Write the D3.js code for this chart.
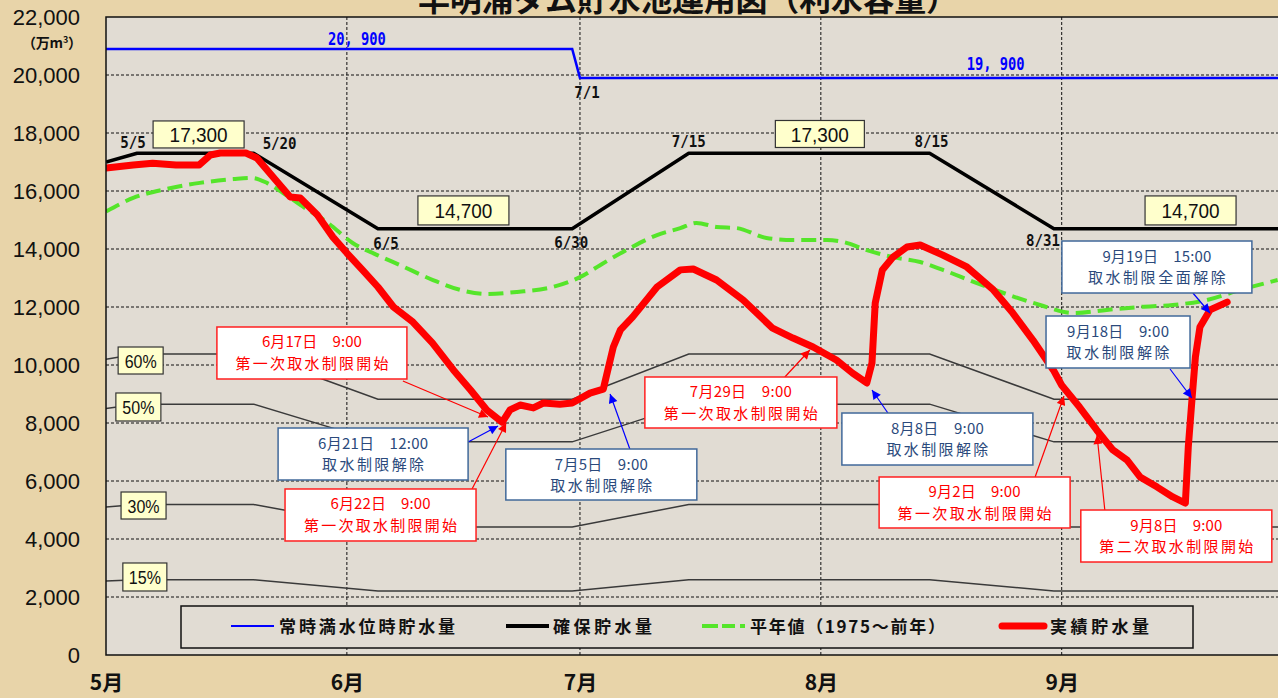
<!DOCTYPE html>
<html><head><meta charset="utf-8">
<script src="https://cdn.jsdelivr.net/npm/d3@7"></script>
<style>
html,body{margin:0;padding:0;background:#e9d6ad;overflow:hidden;}
svg{display:block;}
</style></head><body>
<svg id="chart" width="1278" height="698"></svg>
<script>
// ---------------- DATA ----------------
const titleText = "早明浦ダム貯水池運用図（利水容量）";
const yUnit = "（万m³）";
const yTicks = [0,2000,4000,6000,8000,10000,12000,14000,16000,18000,20000,22000];
const monthTicks = ["5/1","6/1","7/1","8/1","9/1"];
const monthLabels = ["5月","6月","7月","8月","9月"];
const legendLabels = ["常時満水位時貯水量","確保貯水量","平年値（1975～前年）","実績貯水量"];

// 常時満水位時貯水量
const fullDates  = ["5/1","6/30","7/1","10/1"];
const fullValues = [20900,20900,19900,19900];

// 確保貯水量 and its percentage lines
const secureDates  = ["5/1","5/5","5/20","6/5","6/30","7/15","8/15","8/31","10/1"];
const secureValues = [17000,17300,17300,14700,14700,17300,17300,14700,14700];
const pct60Values  = [10200,10380,10380,8820,8820,10380,10380,8820,8820];
const pct50Values  = [8500,8650,8650,7350,7350,8650,8650,7350,7350];
const pct30Values  = [5100,5190,5190,4410,4410,5190,5190,4410,4410];
const pct15Values  = [2550,2595,2595,2205,2205,2595,2595,2205,2205];
const pctLabels = ["60%","50%","30%","15%"];

// 平年値（1975～前年）
const normalDates = ["5/1","5/4 12","5/8 19","5/13 2","5/17 10","5/19 19","5/21 17","5/23 19","5/26","5/29 10",
  "6/1 19","6/4 22","6/7 19","6/12 2","6/15 14","6/19","6/22 22","6/27 12","7/1","7/4",
  "7/7 10","7/10 22","7/13 22","7/16","7/18 14","7/21 5","7/25","7/28 10","8/1 19","8/3 22",
  "8/6 22","8/10 7","8/13 19","8/16 17","8/21","8/25 7","8/29 5","9/2 12","9/6 19","9/11",
  "9/15 7","9/19 17","9/24","9/28 19"];
const normalValues = [15290,15760,16070,16280,16410,16450,16280,15930,15520,14930,
  14200,13790,13450,12930,12590,12450,12520,12690,13030,13510,
  14030,14480,14720,14900,14760,14720,14380,14310,14310,14240,
  13960,13720,13550,13280,12830,12410,12070,11790,11900,12000,
  12070,12240,12590,12930];

// 実績貯水量
const actualDates = ["5/1","5/4 12","5/7","5/10","5/13","5/14 10","5/15 17","5/19","5/20 10","5/22 12",
  "5/24 17","5/26","5/28 5","5/30 5","6/1","6/3","6/5","6/7","6/9 12","6/12",
  "6/14 17","6/16 22","6/19","6/21","6/22","6/23 7","6/25","6/26 7","6/28 10","6/30",
  "7/2 7","7/4","7/5 7","7/6 5","7/7 19","7/10 22","7/13 22","7/15 14","7/18 14","7/22",
  "7/25 19","7/28 10","7/31","8/3","8/5 2","8/6 22","8/7 14","8/8","8/8 22","8/10 7",
  "8/12 2","8/13 19","8/16 17","8/19 19","8/23 5","8/25 17","8/28 7","8/30 22","9/1","9/3 7",
  "9/5 12","9/7 14","9/9 10","9/11 2","9/13 7","9/15 7","9/16 22","9/17 7","9/17 19","9/18 5",
  "9/18 19","9/20 2","9/22 7"];
const actualValues = [16790,16900,16960,16900,16900,17240,17310,17310,17140,16480,
  15790,15760,15170,14410,13860,13280,12690,12000,11480,10760,
  9830,9140,8450,8030,8450,8620,8520,8690,8650,8690,
  9030,9170,10620,11210,11660,12690,13280,13310,12930,12240,
  11270,10930,10620,10170,9720,9380,10070,12140,13280,13720,
  14070,14140,13790,13380,12590,11790,10860,9830,9300,8550,
  7760,7070,6720,6140,5790,5450,5240,7170,8900,10280,
  11310,11900,12170];

// value labels
const fullLabels   = ["20, 900","19, 900"];
const secureLabels = ["17,300","14,700","17,300","14,700"];
const dateMarks    = ["5/5","5/20","6/5","6/30","7/1","7/15","8/15","8/31"];

// callouts
const calloutLine1 = ["6月17日　9:00","6月22日　9:00","7月29日　9:00","9月2日　9:00","9月8日　9:00",
  "6月21日　12:00","7月5日　9:00","8月8日　9:00","9月18日　9:00","9月19日　15:00"];
const calloutLine2 = ["第一次取水制限開始","第一次取水制限開始","第一次取水制限開始","第一次取水制限開始","第二次取水制限開始",
  "取水制限解除","取水制限解除","取水制限解除","取水制限解除","取水制限全面解除"];
const calloutKind  = ["start","start","start","start","start","end","end","end","end","end"];

// ---------------- LAYOUT ----------------
const W = 1278, H = 698;
const plot = {left:106, top:17, bottom:655, right:1278};
const parseD = s => { const p = s.split(" "); const md = p[0].split("/").map(Number); return new Date(2005, md[0]-1, md[1], p[1] ? +p[1] : 0); };
const x = d3.scaleTime().domain([new Date(2005,4,1), new Date(2005,9,1)]).range([106, 1294.8]);
const y = d3.scaleLinear().domain([0,22000]).range([655,17]);

const JP = "'Noto Sans CJK JP','Noto Sans CJK SC',sans-serif";
const SANS = "'Liberation Sans',Arial,sans-serif";
const MONO = "'DejaVu Sans Mono',monospace";

const svg = d3.select("#chart");
svg.append("rect").attr("width",W).attr("height",H).attr("fill","#e8d4a9");

const defs = svg.append("defs");
defs.append("clipPath").attr("id","clip").append("rect")
  .attr("x",plot.left).attr("y",plot.top).attr("width",plot.right-plot.left).attr("height",plot.bottom-plot.top);
[["arrRed","#ff0000"],["arrBlue","#0000ff"]].forEach(([id,c])=>{
  defs.append("marker").attr("id",id).attr("viewBox","0 0 10 10").attr("refX",10).attr("refY",5)
    .attr("markerUnits","userSpaceOnUse").attr("markerWidth",11).attr("markerHeight",9).attr("orient","auto")
    .append("path").attr("d","M0,0L10,5L0,10z").attr("fill",c);
});

// plot background
svg.append("rect").attr("x",plot.left).attr("y",plot.top).attr("width",plot.right-plot.left)
  .attr("height",plot.bottom-plot.top).attr("fill","#e1dcd3");

// grid
const grid = svg.append("g").attr("clip-path","url(#clip)");
grid.selectAll("line.h").data(yTicks.filter(v=>v>0 && v<22000)).join("line")
  .attr("x1",plot.left).attr("x2",plot.right).attr("y1",d=>y(d)).attr("y2",d=>y(d))
  .attr("stroke","#111").attr("stroke-width",1).attr("stroke-dasharray","3,2");
grid.selectAll("line.v").data(monthTicks.slice(1)).join("line")
  .attr("x1",d=>x(parseD(d))).attr("x2",d=>x(parseD(d))).attr("y1",plot.top).attr("y2",plot.bottom)
  .attr("stroke","#111").attr("stroke-width",1).attr("stroke-dasharray","3,2");

// axes
const yAxis = svg.append("g").attr("transform",`translate(${plot.left},0)`)
  .call(d3.axisLeft(y).tickValues(yTicks).tickFormat(d3.format(",")).tickSize(0).tickPadding(26));
yAxis.select(".domain").remove();
yAxis.selectAll("text").attr("font-family",SANS).attr("font-size",22).attr("fill","#111");

const xAxis = svg.append("g").attr("transform",`translate(0,${plot.bottom})`)
  .call(d3.axisBottom(x).tickValues(monthTicks.map(parseD)).tickFormat((d,i)=>monthLabels[i]).tickSize(0).tickPadding(20));
xAxis.select(".domain").remove();
xAxis.selectAll("text").attr("font-family",JP).attr("font-size",21).attr("font-weight","bold").attr("fill","#111");

// y unit
const unit = svg.append("text").attr("x",52).attr("y",48).attr("text-anchor","middle")
  .attr("font-family",JP).attr("font-size",14).attr("font-weight","bold").attr("fill","#111")
  .attr("textLength",60);
unit.append("tspan").text("（万m");
unit.append("tspan").attr("font-size",9).attr("dy",-5).text("3");
unit.append("tspan").attr("dy",5).text("）");

// series
const series = svg.append("g").attr("clip-path","url(#clip)");
const lineGen = (dates, vals, curve) => d3.line().curve(curve||d3.curveLinear)
  .x((d,i)=>x(parseD(dates[i]))).y((d,i)=>y(vals[i]))(vals);

[pct60Values,pct50Values,pct30Values,pct15Values].forEach(vals=>{
  series.append("path").attr("d",lineGen(secureDates,vals)).attr("fill","none")
    .attr("stroke","#3a3a3a").attr("stroke-width",1.5);
});
series.append("path").attr("d",lineGen(fullDates,fullValues)).attr("fill","none")
  .attr("stroke","#0000ff").attr("stroke-width",2.5);
series.append("path").attr("d",lineGen(secureDates,secureValues)).attr("fill","none")
  .attr("stroke","#000").attr("stroke-width",3.5).attr("stroke-linejoin","round");
series.append("path").attr("d",lineGen(normalDates,normalValues,d3.curveMonotoneX)).attr("fill","none")
  .attr("stroke","#55e52a").attr("stroke-width",4).attr("stroke-dasharray","15,7");
series.append("path").attr("d",lineGen(actualDates,actualValues)).attr("fill","none")
  .attr("stroke","#ff0000").attr("stroke-width",7).attr("stroke-linejoin","round").attr("stroke-linecap","round");

// frame
svg.append("path").attr("d",`M${plot.right},${plot.top}H${plot.left}V${plot.bottom}H${plot.right}`)
  .attr("fill","none").attr("stroke","#111").attr("stroke-width",1.5);

// percentage label boxes (anchor date/value + size)
const pctLayout = [["5/5 11",10155,45,27],["5/5 4",8552,45,28],["5/5 20",5155,45,27],["5/6",2690,44,28]];
pctLabels.forEach((t,i)=>{
  const [ds,v,w,h] = pctLayout[i]; const cx = x(parseD(ds)), cy = y(v);
  svg.append("rect").attr("x",cx-w/2).attr("y",cy-h/2).attr("width",w).attr("height",h)
    .attr("fill","#ffffcc").attr("stroke","#333").attr("stroke-width",1.2);
  svg.append("text").attr("x",cx).attr("y",cy+7).attr("text-anchor","middle").attr("font-family",SANS)
    .attr("font-size",19).attr("fill","#111").attr("textLength",32).attr("lengthAdjust","spacingAndGlyphs").text(t);
});

// secure value boxes
const secLayout = [["5/12 22",17950,91,27],["6/16",15330,91,29],["7/31 21",17966,89,27],["9/17 14",15330,91,29]];
secureLabels.forEach((t,i)=>{
  const [ds,v,w,h] = secLayout[i]; const cx = x(parseD(ds)), cy = y(v);
  svg.append("rect").attr("x",cx-w/2).attr("y",cy-h/2).attr("width",w).attr("height",h)
    .attr("fill","#ffffcc").attr("stroke","#333").attr("stroke-width",1.2);
  svg.append("text").attr("x",cx).attr("y",cy+8).attr("text-anchor","middle").attr("font-family",SANS)
    .attr("font-size",21).attr("fill","#111").attr("textLength",58).attr("lengthAdjust","spacingAndGlyphs").text(t);
});

// blue value labels
const fullLabLayout = [["6/2 7",21276],["8/23 12",20414]];
fullLabels.forEach((t,i)=>{
  const [ds,v] = fullLabLayout[i];
  svg.append("text").attr("x",x(parseD(ds))).attr("y",y(v)+7).attr("text-anchor","middle")
    .attr("font-family",MONO).attr("font-weight","bold").attr("font-size",18).attr("fill","#0000ff")
    .attr("textLength",58).attr("lengthAdjust","spacingAndGlyphs").text(t);
});

// date marks anchored to break points
const markAnchor = [["5/5",17300,-4,-10],["5/20",17300,26,-9],["6/5",14700,8,15],["6/30",14700,-1,14],
  ["7/1",19900,7,15],["7/15",17300,0,-11],["8/15",17300,2,-11],["8/31",14700,-11,12]];
dateMarks.forEach((t,i)=>{
  const [ds,v,dx,dy] = markAnchor[i];
  svg.append("text").attr("x",x(parseD(ds))+dx).attr("y",y(v)+dy+5).attr("text-anchor","middle")
    .attr("font-family",MONO).attr("font-weight","bold").attr("font-size",15).attr("fill","#111")
    .attr("textLength",8.5*t.length).attr("lengthAdjust","spacingAndGlyphs").text(t);
});

// callouts: box center (date,value), size, arrow start offset, arrow tip (date,value), text widths
const calloutLayout = [
  {c:["5/27 12",10414], w:190,h:52, s:[91,28],  tip:["6/19 4",8207],  tw:[100,153]},
  {c:["6/5 8",4828],    w:191,h:52, s:[91.5,-26],tip:["6/21 12",8000], tw:[100,153]},
  {c:["7/21 17",8707],  w:192,h:51, s:[44,-25.5],tip:["7/30 14",10517],tw:[102,154]},
  {c:["8/20 19",5259],  w:191,h:51, s:[60.5,-25.5],tip:["9/1 7",8931], tw:[92,154]},
  {c:["9/15 18",4103],  w:191,h:52, s:[-71.5,-26],tip:["9/5 13",7586], tw:[92,154]},
  {c:["6/4 9",6931],    w:190,h:52, s:[95,-12],  tip:["6/20 11",7897], tw:[110,102]},
  {c:["7/3 18",6224],   w:191,h:51, s:[28.5,-25.5],tip:["7/4 21",9000],tw:[93,102]},
  {c:["8/16 0",7448],   w:191,h:52, s:[-49.5,-26],tip:["8/7 14",9138], tw:[93,102]},
  {c:["9/8 6",10793],   w:144,h:52, s:[52,27],   tip:["9/17 18",8862], tw:[102,103]},
  {c:["9/13 6",13379],  w:190,h:52, s:[36,26],   tip:["9/20 2",11793], tw:[109,138]}
];
const cg = svg.append("g");
calloutLine1.forEach((t,i)=>{
  const L = calloutLayout[i]; const isStart = calloutKind[i]==="start";
  const cx = x(parseD(L.c[0])), cy = y(L.c[1]);
  const tx = x(parseD(L.tip[0])), ty = y(L.tip[1]);
  cg.append("line").attr("x1",cx+L.s[0]).attr("y1",cy+L.s[1]).attr("x2",tx).attr("y2",ty)
    .attr("stroke",isStart?"#ff0000":"#0000ff").attr("stroke-width",1.2)
    .attr("marker-end",isStart?"url(#arrRed)":"url(#arrBlue)");
});
calloutLine1.forEach((t,i)=>{
  const L = calloutLayout[i]; const isStart = calloutKind[i]==="start";
  const cx = x(parseD(L.c[0])), cy = y(L.c[1]);
  const col = isStart ? "#ff0000" : "#2b4a7c";
  cg.append("rect").attr("x",cx-L.w/2).attr("y",cy-L.h/2).attr("width",L.w).attr("height",L.h)
    .attr("fill","#ffffff").attr("stroke",isStart?"#ff2020":"#41699a").attr("stroke-width",1.5);
  cg.append("text").attr("x",cx).attr("y",cy-L.h/2+20.5).attr("text-anchor","middle").attr("font-family",JP)
    .attr("font-size",15).attr("fill",col).attr("textLength",L.tw[0]).text(t);
  cg.append("text").attr("x",cx).attr("y",cy-L.h/2+42).attr("text-anchor","middle").attr("font-family",JP)
    .attr("font-size",15).attr("fill",col).attr("textLength",L.tw[1]).text(calloutLine2[i]);
});

// legend
const lg = svg.append("g");
lg.append("rect").attr("x",181).attr("y",606).attr("width",1012).attr("height",42)
  .attr("fill","#e1dcd3").attr("stroke","#111").attr("stroke-width",1.5);
const legSym = [
  {x1:231,x2:274,c:"#0000ff",w:2,dash:null,cap:"butt"},
  {x1:506,x2:549,c:"#000",w:4,dash:null,cap:"butt"},
  {x1:702,x2:746,c:"#55e52a",w:4,dash:"16,4,13,5,5",cap:"butt"},
  {x1:1002,x2:1044,c:"#ff0000",w:7,dash:null,cap:"round"}
];
const legText = [[279,176],[553,99],[750,195],[1050,99]];
legendLabels.forEach((t,i)=>{
  const s = legSym[i];
  lg.append("line").attr("x1",s.x1).attr("x2",s.x2).attr("y1",626).attr("y2",626)
    .attr("stroke",s.c).attr("stroke-width",s.w).attr("stroke-dasharray",s.dash).attr("stroke-linecap",s.cap);
  lg.append("text").attr("x",legText[i][0]).attr("y",633).attr("font-family",JP).attr("font-weight","bold")
    .attr("font-size",17).attr("fill","#111").attr("textLength",legText[i][1]).text(t);
});

// title (cut off at the top edge, as in the reference)
svg.append("text").attr("x",688).attr("y",10.5).attr("text-anchor","middle").attr("font-family",JP)
  .attr("font-weight","bold").attr("font-size",32).attr("fill","#111").attr("textLength",540).text(titleText);
</script>
</body></html>
